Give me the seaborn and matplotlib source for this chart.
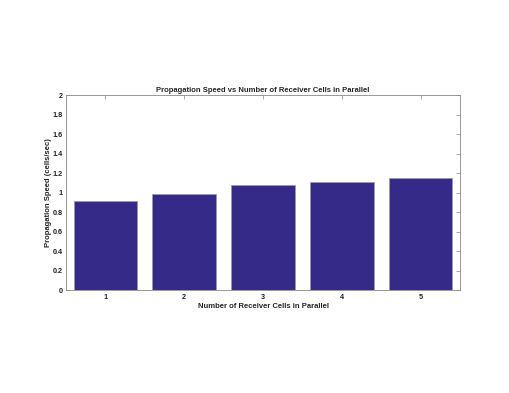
import matplotlib
matplotlib.use("Agg")
import matplotlib.pyplot as plt
import seaborn as sns
import pandas as pd

receivers = ["1", "2", "3", "4", "5"]
speeds = [0.91, 0.99, 1.08, 1.11, 1.15]
y_ticks = [0, 0.2, 0.4, 0.6, 0.8, 1, 1.2, 1.4, 1.6, 1.8, 2]
y_tick_labels = ["0", "0.2", "0.4", "0.6", "0.8", "1", "1.2", "1.4", "1.6", "1.8", "2"]

sns.set_style("white")
plt.rcParams['font.family'] = ['Liberation Sans', 'DejaVu Sans']

df = pd.DataFrame({"n": receivers, "speed": speeds})

fig = plt.figure(figsize=(5.09, 3.93), dpi=100)
ax = fig.add_axes([0.1297, 0.262, 0.774, 0.496])
sns.barplot(data=df, x="n", y="speed", color="#352a87", saturation=1, width=0.81,
            edgecolor="#9a9aa8", linewidth=0.6, ax=ax)
ax.set_xlim(-0.5, 4.5)
ax.set_ylim(0, 2)
ax.set_yticks(y_ticks)
ax.set_yticklabels(y_tick_labels)
for s in ax.spines.values():
    s.set_visible(True)
    s.set_color("#888888")
    s.set_linewidth(0.6)
ax.tick_params(direction="in", length=3, width=0.5, color="#888888",
               top=True, right=True, labelsize=5.2, pad=2.5)
for lab in ax.get_xticklabels() + ax.get_yticklabels():
    lab.set_fontweight("bold")
    lab.set_color("#222222")
ax.set_title("Propagation Speed vs Number of Receiver Cells in Parallel",
             fontsize=5.5, fontweight="bold", pad=2.5)
ax.set_xlabel("Number of Receiver Cells in Parallel", fontsize=5.5, fontweight="bold", labelpad=2)
ax.set_ylabel("Propagation Speed (cells/sec)", fontsize=5.5, fontweight="bold", labelpad=0.5)
fig.savefig("out.png", dpi=100)
